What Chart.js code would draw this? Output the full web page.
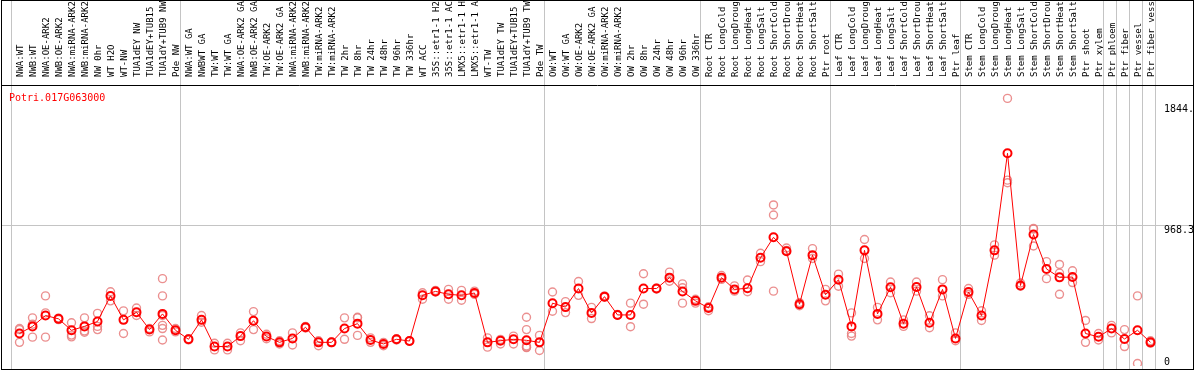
<!DOCTYPE html>
<html>
<head>
<meta charset="utf-8">
<script src="https://cdn.jsdelivr.net/npm/chart.js@4.4.1/dist/chart.umd.min.js"></script>
<style>
  html, body { margin: 0; padding: 0; background: #fff; overflow: hidden; }
  #wrap { width: 1194px; height: 370px; overflow: hidden; }
</style>
</head>
<body>
<div id="wrap"><canvas id="exprChart" width="1194" height="372"></canvas></div>
<script>
const geneId = 'Potri.017G063000';

const categories = [
  'NWA:WT', 'NWB:WT', 'NWA:OE-ARK2', 'NWB:OE-ARK2', 'NWA:miRNA-ARK2', 'NWB:miRNA-ARK2', 'NW 0hr',
  'WT H2O', 'WT-NW', 'TUA1dEY NW', 'TUA1dEY+TUB15', 'TUA1dY+TUB9 NW', 'Pde NW',
  'NWA:WT GA', 'NWBWT GA', 'TW:WT', 'TW:WT GA', 'NWA:OE-ARK2 GA', 'NWB:OE-ARK2 GA', 'TW:OE-ARK2',
  'TW:OE-ARK2 GA', 'NWA:miRNA-ARK2', 'NWB:miRNA-ARK2', 'TW:miRNA-ARK2', 'TW:miRNA-ARK2',
  'TW 2hr', 'TW 8hr', 'TW 24hr', 'TW 48hr', 'TW 96hr', 'TW 336hr', 'WT ACC',
  '35S::etr1-1 H2O', '35S::etr1-1 ACC', 'LMX5::etr1-1 H2O', 'LMX5::etr1-1 ACC', 'WT-TW',
  'TUA1dEY TW', 'TUA1dEY+TUB15', 'TUA1dY+TUB9 TW', 'Pde TW',
  'OW:WT', 'OW:WT GA', 'OW:OE-ARK2', 'OW:OE-ARK2 GA', 'OW:miRNA-ARK2', 'OW:miRNA-ARK2',
  'OW 2hr', 'OW 8hr', 'OW 24hr', 'OW 48hr', 'OW 96hr', 'OW 336hr',
  'Root CTR', 'Root LongCold', 'Root LongDrought', 'Root LongHeat', 'Root LongSalt',
  'Root ShortCold', 'Root ShortDrought', 'Root ShortHeat', 'Root ShortSalt', 'Ptr root',
  'Leaf CTR', 'Leaf LongCold', 'Leaf LongDrought', 'Leaf LongHeat', 'Leaf LongSalt',
  'Leaf ShortCold', 'Leaf ShortDrought', 'Leaf ShortHeat', 'Leaf ShortSalt', 'Ptr leaf',
  'Stem CTR', 'Stem LongCold', 'Stem LongDrought', 'Stem LongHeat', 'Stem LongSalt',
  'Stem ShortCold', 'Stem ShortDrought', 'Stem ShortHeat', 'Stem ShortSalt', 'Ptr shoot', 'Ptr xylem',
  'Ptr phloem', 'Ptr fiber', 'Ptr vessel', 'Ptr fiber vessel'
];

// number of samples in each block between the grey separators
const groupSizes = [13, 28, 12, 10, 10, 11, 1, 1, 1, 1];

const meanValues = [
  224, 273, 348, 325, 246, 273, 307, 483, 318, 370, 251, 359, 246,
  184, 318, 134, 134, 206, 312, 203, 163, 190, 267, 163, 163, 258, 292, 179, 152,
  184, 172, 487, 514, 494, 487, 503, 163, 174, 184, 177, 163,
  433, 406, 534, 366, 478, 352, 352, 534, 534, 609, 514, 449,
  400, 609, 528, 536, 746, 887, 791, 426, 764, 491,
  595, 273, 797, 359, 543, 292, 545, 298, 528, 190,
  510, 348, 797, 1466, 555, 906, 669, 611, 613, 224, 201,
  258, 186, 246, 163
];

const replicateValues = [
  [258, 251, 163], [332, 288, 199], [483, 366, 199], [330, 320], [298, 213, 201],
  [332, 242, 233], [363, 273, 251], [512, 449], [380, 224], [400, 348], [258, 235],
  [602, 483, 348, 280, 258, 179], [258, 235],
  [188, 180], [348, 302], [157, 111], [157, 111], [228, 174], [375, 251], [219, 188],
  [174, 152], [228, 145], [273, 262], [174, 140], [165, 161], [332, 184], [336, 332, 211],
  [194, 163], [163, 140], [188, 179], [175, 170], [505, 460], [521, 510], [528, 460],
  [521, 453], [516, 494], [194, 130], [183, 152], [206, 152], [336, 251, 138, 130, 127],
  [211, 107],
  [510, 377], [444, 368], [582, 487], [404, 327], [482, 474], [355, 350], [433, 271],
  [636, 426], [537, 531], [647, 584], [566, 539, 433], [460, 433],
  [408, 381], [624, 597], [552, 516], [593, 512], [777, 719], [1110, 1041, 516],
  [813, 797], [437, 415], [809, 741], [528, 449],
  [633, 550], [366, 224, 206], [872, 741], [404, 318], [579, 505], [318, 273],
  [579, 516], [346, 264], [595, 483], [228, 174],
  [534, 494], [381, 314], [835, 764], [1844.4, 1281, 1263], [572, 550], [948, 943, 827],
  [719, 602], [700, 640, 494], [656, 575], [314, 163], [224, 179],
  [280, 228], [251, 134], [483, 17], [174, 157]
];

const maxValue = 1844.4;
const yTop = maxValue * 1.05;
const yTickValues = [maxValue, yTop / 2, 0];

const fontMono = 'DejaVu Sans Mono';
const maxLabelChars = 14;

// one scatter-like dataset per replicate slot
const maxReps = Math.max(...replicateValues.map(r => r.length));
const repDatasets = [];
for (let k = 0; k < maxReps; k++) {
  repDatasets.push({
    label: 'rep' + (k + 1),
    data: replicateValues.map(r => (r[k] !== undefined ? r[k] : null)),
    showLine: false,
    pointRadius: 4,
    pointBorderWidth: 1.4,
    pointBorderColor: 'rgba(232, 125, 125, 0.85)',
    pointBackgroundColor: 'rgba(0,0,0,0)',
    order: 2
  });
}

const framePlugin = {
  id: 'frame',
  beforeDatasetsDraw(chart) {
    const ctx = chart.ctx;
    const x = chart.scales.x;
    const y = chart.scales.y;
    ctx.save();
    ctx.strokeStyle = '#c4c4c4';
    ctx.lineWidth = 1;
    // group separators
    const edges = [0];
    let acc = 0;
    groupSizes.forEach(function(n) { acc += n; edges.push(acc); });
    edges.forEach(function(idx) {
      const px = Math.round(x.getPixelForValue(idx) - 8.5) + 0.5;
      ctx.beginPath();
      ctx.moveTo(px, 0);
      ctx.lineTo(px, 369);
      ctx.stroke();
    });
    // middle horizontal line
    const gy = Math.floor(y.getPixelForValue(yTickValues[1])) + 0.5;
    ctx.beginPath();
    ctx.moveTo(1, gy);
    ctx.lineTo(1193, gy);
    ctx.stroke();
    ctx.restore();
  },
  afterDraw(chart) {
    const ctx = chart.ctx;
    const y = chart.scales.y;
    const area = chart.chartArea;
    ctx.save();
    // value labels on the right
    ctx.font = '10px "' + fontMono + '"';
    ctx.fillStyle = '#000';
    ctx.textAlign = 'left';
    ctx.textBaseline = 'alphabetic';
    const fmt = function(v) { return v === 0 ? '0' : v.toFixed(1); };
    const gy = y.getPixelForValue(yTickValues[1]);
    ctx.fillText(fmt(yTickValues[0]), 1164, area.top + 27);
    ctx.fillText(fmt(yTickValues[1]), 1164, gy + 7);
    ctx.fillText(fmt(yTickValues[2]), 1164, 365);
    // gene id
    ctx.fillStyle = '#ff0000';
    ctx.fillText(geneId, 9, 101);
    // frame
    ctx.strokeStyle = '#000';
    ctx.lineWidth = 1;
    ctx.strokeRect(1.5, 0.5, 1192, 369);
    ctx.beginPath();
    ctx.moveTo(1, 85.5);
    ctx.lineTo(1194, 85.5);
    ctx.stroke();
    ctx.restore();
  }
};

new Chart(document.getElementById('exprChart').getContext('2d'), {
  type: 'line',
  data: {
    labels: categories,
    datasets: [{
      label: geneId,
      data: meanValues,
      borderColor: '#ff0000',
      borderWidth: 1,
      tension: 0,
      pointRadius: 4,
      pointBorderWidth: 2,
      pointBorderColor: '#ff0000',
      pointBackgroundColor: 'rgba(0,0,0,0)',
      order: 1
    }].concat(repDatasets)
  },
  options: {
    responsive: false,
    animation: false,
    events: [],
    layout: { padding: { left: 13, right: 37, top: 0, bottom: 0 } },
    plugins: {
      legend: { display: false },
      tooltip: { enabled: false },
      title: { display: false }
    },
    scales: {
      x: {
        position: 'top',
        offset: true,
        grid: { display: false, drawTicks: false },
        border: { display: false },
        ticks: {
          autoSkip: false,
          minRotation: 90,
          maxRotation: 90,
          padding: 8,
          labelOffset: 12,
          color: '#000',
          font: { family: fontMono, size: 9 },
          callback: function(value) {
            return this.getLabelForValue(value).slice(0, maxLabelChars);
          }
        },
        afterFit: function(scale) { scale.height = 85; }
      },
      y: {
        display: false,
        min: 0,
        max: yTop
      }
    }
  },
  plugins: [framePlugin]
});
</script>
</body>
</html>
